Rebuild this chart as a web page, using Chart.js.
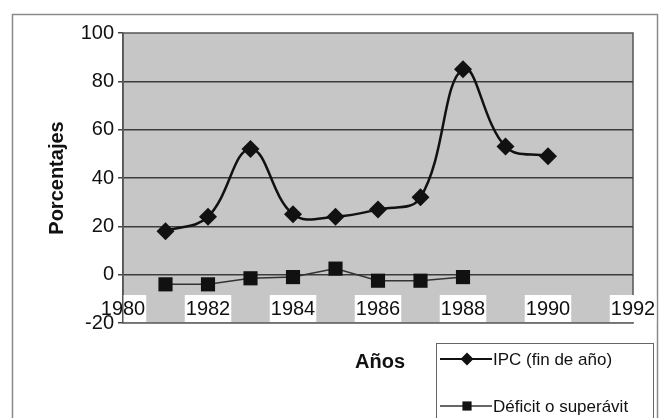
<!DOCTYPE html>
<html>
<head>
<meta charset="utf-8">
<script src="https://cdn.jsdelivr.net/npm/chart.js@4/dist/chart.umd.min.js"></script>
<style>
  html, body { margin: 0; padding: 0; background: #fff; }
  #wrap { width: 659px; height: 418px; position: relative; }
</style>
</head>
<body>
<div id="wrap"><canvas id="chart" width="659" height="418"></canvas></div>
<script>
const years = [1981, 1982, 1983, 1984, 1985, 1986, 1987, 1988, 1989, 1990];
const ipcValues = [18, 24, 52, 25, 24, 27, 32, 85, 53, 49];
const deficitYears = [1981, 1982, 1983, 1984, 1985, 1986, 1987, 1988];
const deficitValues = [-4, -4, -1.5, -1, 2.5, -2.5, -2.5, -1];
const yTicks = [-20, 0, 20, 40, 60, 80, 100];
const xTicks = [1980, 1982, 1984, 1986, 1988, 1990, 1992];

const fontFamily = '"Liberation Sans", Arial, sans-serif';

/* Frame, "Años" label and the boxed legend, drawn like the Excel original */
const framePlugin = {
  id: 'frame',
  beforeDraw(chart) {
    const ctx = chart.ctx;
    ctx.save();
    ctx.strokeStyle = '#8a8a8a';
    ctx.lineWidth = 1.5;
    ctx.strokeRect(12.5, 14.5, 645, 410);
    ctx.restore();
  },
  afterDraw(chart) {
    const ctx = chart.ctx;
    ctx.save();
    ctx.fillStyle = '#111';
    ctx.font = 'bold 20px ' + fontFamily;
    ctx.textAlign = 'center';
    ctx.textBaseline = 'middle';
    ctx.fillText('Años', 380, 362);

    ctx.strokeStyle = '#666';
    ctx.lineWidth = 1;
    ctx.strokeRect(436.5, 343.5, 217, 90);

    const items = [
      { label: 'IPC (fin de año)', y: 359, style: 'rectRot', color: '#111', width: 2 },
      { label: 'Déficit o superávit', y: 406, style: 'rect', color: '#333', width: 1.5 }
    ];
    items.forEach(item => {
      ctx.strokeStyle = item.color;
      ctx.lineWidth = item.width;
      ctx.beginPath();
      ctx.moveTo(440, item.y);
      ctx.lineTo(492, item.y);
      ctx.stroke();
      ctx.fillStyle = '#111';
      Chart.helpers.drawPoint(ctx, { pointStyle: item.style, radius: 6.5, borderWidth: 0 }, 467, item.y);
      ctx.fillStyle = '#111';
      ctx.font = '17px ' + fontFamily;
      ctx.textAlign = 'left';
      ctx.fillText(item.label, 493, item.y + 1);
    });
    ctx.restore();
  }
};

/* Grey plot background */
const plotBgPlugin = {
  id: 'plotBg',
  beforeDraw(chart) {
    const a = chart.chartArea;
    const ctx = chart.ctx;
    ctx.save();
    ctx.fillStyle = '#c6c6c6';
    ctx.fillRect(a.left, a.top, a.right - a.left, a.bottom - a.top);
    ctx.strokeStyle = '#555';
    ctx.lineWidth = 1.5;
    ctx.strokeRect(a.left, a.top, a.right - a.left, a.bottom - a.top);
    ctx.restore();
  }
};

new Chart(document.getElementById('chart'), {
  type: 'line',
  data: {
    datasets: [
      {
        label: 'IPC (fin de año)',
        data: years.map((y, i) => ({ x: y, y: ipcValues[i] })),
        borderColor: '#111',
        backgroundColor: '#111',
        borderWidth: 2.5,
        tension: 0.4,
        pointStyle: 'rectRot',
        pointRadius: 9,
        pointBorderWidth: 0
      },
      {
        label: 'Déficit o superávit',
        data: deficitYears.map((y, i) => ({ x: y, y: deficitValues[i] })),
        borderColor: '#333',
        backgroundColor: '#111',
        borderWidth: 1.5,
        tension: 0,
        pointStyle: 'rect',
        pointRadius: 10,
        pointBorderWidth: 0
      }
    ]
  },
  options: {
    responsive: false,
    animation: false,
    layout: { padding: { top: 33, right: 26, left: 0, bottom: 0 } },
    plugins: {
      legend: { display: false },
      tooltip: { enabled: false }
    },
    scales: {
      x: {
        type: 'linear',
        min: 1980,
        max: 1992,
        afterBuildTicks: scale => { scale.ticks = xTicks.map(v => ({ value: v })); },
        afterFit: scale => { scale.height = 95; },
        grid: { display: false, drawTicks: false },
        border: { display: false },
        ticks: {
          color: '#111',
          font: { family: fontFamily, size: 20 },
          mirror: true,
          padding: 2,
          maxRotation: 0,
          autoSkip: false,
          showLabelBackdrop: true,
          backdropColor: '#ffffff',
          backdropPadding: { top: 2, bottom: 1, left: 1, right: 1 },
          callback: v => String(v)
        }
      },
      y: {
        min: -20,
        max: 100,
        afterBuildTicks: scale => { scale.ticks = yTicks.map(v => ({ value: v })); },
        afterFit: scale => { scale.width = 123; },
        grid: {
          color: ctx => (ctx.tick && (ctx.tick.value === 100 || ctx.tick.value === -20)) ? 'rgba(0,0,0,0)' : '#3c3c3c',
          lineWidth: 1.5,
          tickColor: '#444',
          tickLength: 5
        },
        border: { display: true, color: '#555', width: 1.5 },
        ticks: {
          color: '#111',
          font: { family: fontFamily, size: 20 },
          padding: 4
        },
        title: {
          display: true,
          text: 'Porcentajes',
          color: '#111',
          font: { family: fontFamily, size: 20, weight: 'bold' },
          padding: { top: 45, bottom: 0 }
        }
      }
    }
  },
  plugins: [plotBgPlugin, framePlugin]
});
</script>
</body>
</html>
